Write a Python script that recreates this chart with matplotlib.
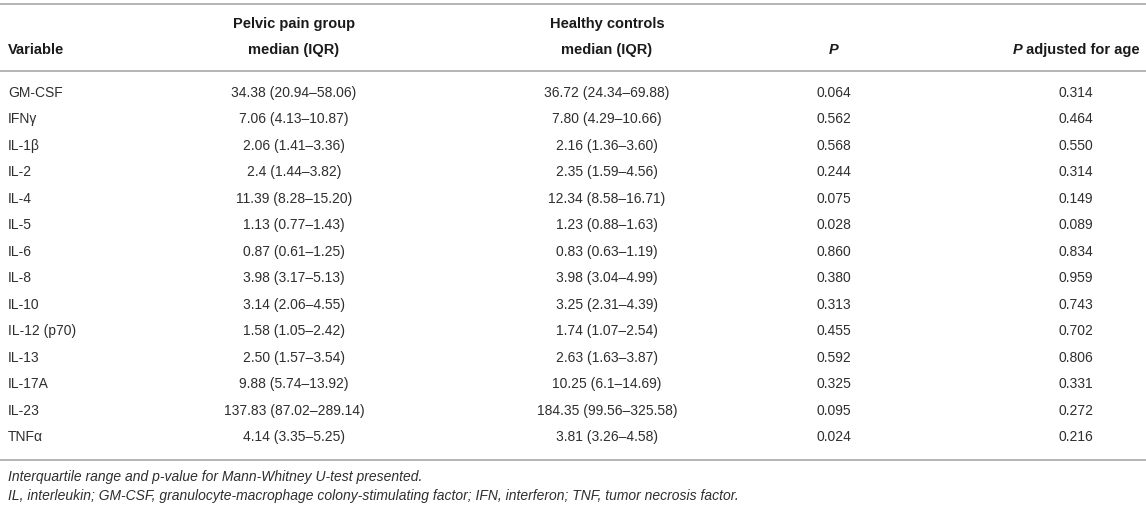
import matplotlib
matplotlib.use("Agg")
import matplotlib.pyplot as plt

plt.rcParams['font.family'] = ['Liberation Sans', 'DejaVu Sans']

variables = ['GM-CSF', 'IFNγ', 'IL-1β', 'IL-2', 'IL-4', 'IL-5', 'IL-6', 'IL-8',
             'IL-10', 'IL-12 (p70)', 'IL-13', 'IL-17A', 'IL-23', 'TNFα']
pelvic = ['34.38 (20.94–58.06)', '7.06 (4.13–10.87)', '2.06 (1.41–3.36)',
          '2.4 (1.44–3.82)', '11.39 (8.28–15.20)', '1.13 (0.77–1.43)',
          '0.87 (0.61–1.25)', '3.98 (3.17–5.13)', '3.14 (2.06–4.55)',
          '1.58 (1.05–2.42)', '2.50 (1.57–3.54)', '9.88 (5.74–13.92)',
          '137.83 (87.02–289.14)', '4.14 (3.35–5.25)']
healthy = ['36.72 (24.34–69.88)', '7.80 (4.29–10.66)', '2.16 (1.36–3.60)',
           '2.35 (1.59–4.56)', '12.34 (8.58–16.71)', '1.23 (0.88–1.63)',
           '0.83 (0.63–1.19)', '3.98 (3.04–4.99)', '3.25 (2.31–4.39)',
           '1.74 (1.07–2.54)', '2.63 (1.63–3.87)', '10.25 (6.1–14.69)',
           '184.35 (99.56–325.58)', '3.81 (3.26–4.58)']
p_values = ['0.064', '0.562', '0.568', '0.244', '0.075', '0.028', '0.860',
            '0.380', '0.313', '0.455', '0.592', '0.325', '0.095', '0.024']
p_adjusted = ['0.314', '0.464', '0.550', '0.314', '0.149', '0.089', '0.834',
              '0.959', '0.743', '0.702', '0.806', '0.331', '0.272', '0.216']
footnotes = ['Interquartile range and p-value for Mann-Whitney U-test presented.',
             'IL, interleukin; GM-CSF, granulocyte-macrophage colony-stimulating '
             'factor; IFN, interferon; TNF, tumor necrosis factor.']

W, H = 1146, 507
fig = plt.figure(figsize=(W / 100, H / 100), dpi=100)
ax = fig.add_axes([0, 0, 1, 1])
ax.set_xlim(0, W)
ax.set_ylim(H, 0)
ax.axis('off')

fs = 10
hfs = 10.5
txt_col = '#2e2e2e'
line_col = '#b4b4b4'
x_var, x_pel, x_hea, x_p, x_adj = 8, 294, 607, 834, 1076
row0, dy = 93, 26.46

# rules
for y in (4, 71, 460):
    ax.axhline(y, color=line_col, lw=1.4)

# header
hkw = dict(fontsize=hfs, fontweight='bold', color='#1a1a1a', va='center')
ax.text(x_var, 50, 'Variable', ha='left', **hkw)
ax.text(x_pel, 24, 'Pelvic pain group', ha='center', **hkw)
ax.text(x_pel, 50, 'median (IQR)', ha='center', **hkw)
ax.text(x_hea, 24, 'Healthy controls', ha='center', **hkw)
ax.text(x_hea, 50, 'median (IQR)', ha='center', **hkw)
ax.text(x_p, 50, 'P', ha='center', fontstyle='italic', **hkw)

# "P adjusted for age": italic P + bold rest, centred as one piece
fig.canvas.draw()
r = fig.canvas.get_renderer()
tp = ax.text(0, 50, 'P', ha='left', fontstyle='italic', **hkw)
tr = ax.text(0, 50, ' adjusted for age', ha='left', **hkw)
wp = tp.get_window_extent(r).width
wr = tr.get_window_extent(r).width
x0 = x_adj - (wp + wr) / 2
tp.set_x(x0)
tr.set_x(x0 + wp)

# body
for i, v in enumerate(variables):
    y = row0 + i * dy
    kw = dict(fontsize=fs, color=txt_col, va='center')
    ax.text(x_var, y, v, ha='left', **kw)
    ax.text(x_pel, y, pelvic[i], ha='center', **kw)
    ax.text(x_hea, y, healthy[i], ha='center', **kw)
    ax.text(x_p, y, p_values[i], ha='center', **kw)
    ax.text(x_adj, y, p_adjusted[i], ha='center', **kw)

# footnotes
for j, f in enumerate(footnotes):
    ax.text(x_var, 477 + j * 19, f, ha='left', va='center', fontsize=10,
            fontstyle='italic', color=txt_col)

fig.savefig('out.png', dpi=100)
